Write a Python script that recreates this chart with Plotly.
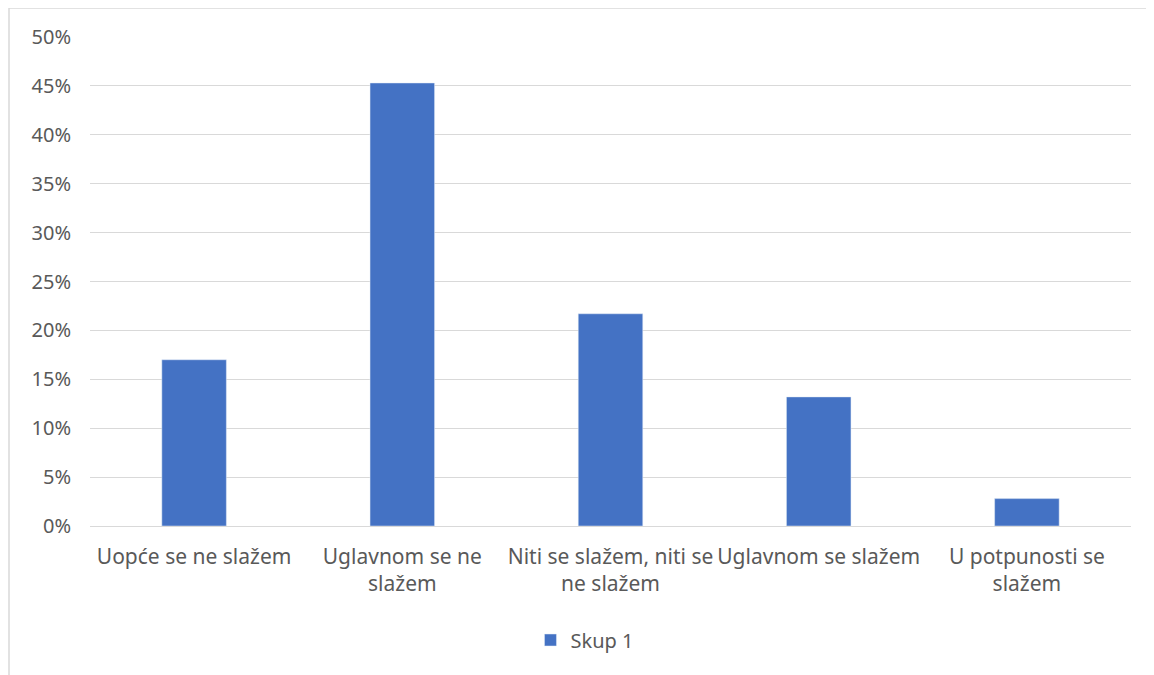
import plotly.graph_objects as go

categories = ["Uopće se ne slažem", "Uglavnom se ne<br>slažem", "Niti se slažem, niti se<br>ne slažem",
              "Uglavnom se slažem", "U potpunosti se<br>slažem"]
values = [0.170, 0.453, 0.217, 0.132, 0.028]
series_name = "Skup 1"
tick_vals = [0, 0.05, 0.10, 0.15, 0.20, 0.25, 0.30, 0.35, 0.40, 0.45, 0.50]
tick_text = ["0%", "5%", "10%", "15%", "20%", "25%", "30%", "35%", "40%", "45%", "50%"]

FONT = "Noto Sans"
W, H = 1154, 675
L, R, T, B = 82, 31, 29, 157
fig = go.Figure()
fig.add_trace(go.Bar(x=categories, y=values, name=series_name, marker_color="#4472C4",
                     width=0.31, showlegend=True))

fig.update_layout(
    width=W, height=H,
    margin=dict(l=L, r=R, t=T, b=B),
    paper_bgcolor="white", plot_bgcolor="white",
    font=dict(family=FONT, size=20, color="#595959"),
    showlegend=True,
    legend=dict(orientation="h", x=0.475, xanchor="center", y=-(632 - 518) / 489, yanchor="middle",
                font=dict(size=20, color="#595959")),
    xaxis=dict(showgrid=False, showline=False, ticks="", tickfont=dict(size=21),
               ticklabelstandoff=16, automargin=False),
    yaxis=dict(range=[0, 0.5], tickvals=tick_vals, ticktext=tick_text, showgrid=True,
               gridcolor="#D9D9D9", gridwidth=1, zeroline=True, zerolinecolor="#D9D9D9",
               zerolinewidth=1, ticks="", ticklabelstandoff=18, tickfont=dict(size=20),
               automargin=False),
)
pw, ph = W - L - R, H - T - B
fig.add_shape(type="rect", xref="paper", yref="paper",
              x0=(1 - L) / pw, x1=(1300 - L) / pw,
              y0=-(800 - (H - B)) / ph, y1=((H - B) - 0) / ph,
              line=dict(color="#D9D9D9", width=1.5), fillcolor="rgba(0,0,0,0)", layer="below")
fig.write_html("out.html")
